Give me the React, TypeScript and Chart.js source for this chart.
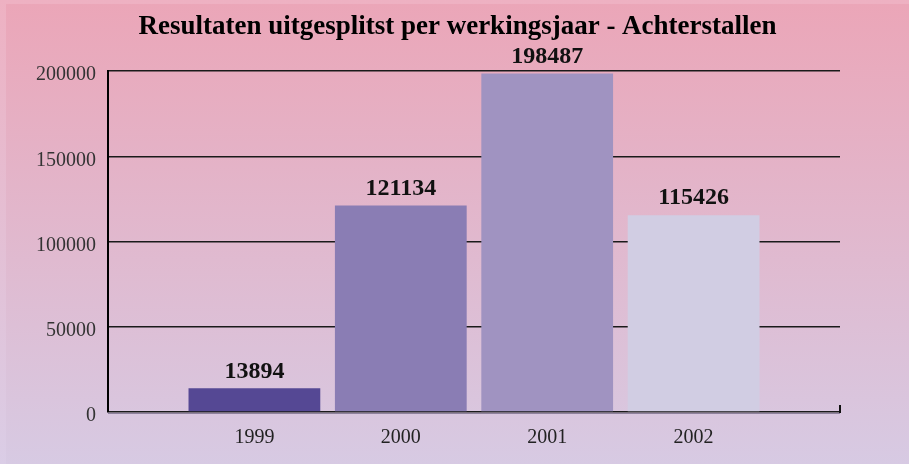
import React, { useEffect, useRef } from "react";
import { Chart, registerables } from "chart.js";

Chart.register(...registerables);

const categories = ["", "1999", "2000", "2001", "2002", ""];
const values = [null, 13894, 121134, 198487, 115426, null];
const barColors = ["#554894", "#554894", "#8a7db4", "#a093c1", "#d1cde3", "#d1cde3"];
const yTicks = [0, 50000, 100000, 150000, 200000];
const yTickLabels = ["0", "50000", "100000", "150000", "200000"];
const titleText = "Resultaten uitgesplitst per werkingsjaar - Achterstallen";

const FONT = "'Liberation Serif', 'Times New Roman', serif";

const decorPlugin = {
  id: "decor",
  afterDatasetsDraw(chart: any) {
    const { ctx, chartArea } = chart;
    const meta = chart.getDatasetMeta(0);
    ctx.save();
    ctx.strokeStyle = "rgba(110,100,130,0.7)";
    ctx.lineWidth = 1;
    ctx.beginPath();
    ctx.moveTo(chartArea.left, chartArea.bottom + 1.5);
    ctx.lineTo(chartArea.right, chartArea.bottom + 1.5);
    ctx.stroke();
    ctx.strokeStyle = "#111";
    ctx.lineWidth = 2;
    ctx.beginPath();
    ctx.moveTo(chartArea.right, chartArea.bottom + 1);
    ctx.lineTo(chartArea.right, chartArea.bottom - 7);
    ctx.stroke();
    ctx.fillStyle = "#111";
    ctx.font = `bold 24px ${FONT}`;
    ctx.textAlign = "center";
    ctx.textBaseline = "middle";
    meta.data.forEach((bar: any, i: number) => {
      const v = values[i];
      if (v == null) return;
      ctx.fillText(String(v), bar.x, bar.y - 17);
    });
    ctx.restore();
  },
};

export default function App() {
  const ref = useRef<HTMLCanvasElement>(null);
  useEffect(() => {
    document.body.style.margin = "0";
    const chart = new Chart(ref.current!, {
      type: "bar",
      data: {
        labels: categories,
        datasets: [
          {
            data: values as any,
            backgroundColor: barColors,
            borderWidth: 0,
            barPercentage: 0.9,
            categoryPercentage: 1,
          },
        ],
      },
      options: {
        animation: false,
        responsive: false,
        maintainAspectRatio: false,
        layout: { padding: { left: 0, right: 0, top: 0, bottom: 0 } },
        plugins: {
          legend: { display: false },
          tooltip: { enabled: false },
          title: {
            display: true,
            text: titleText,
            color: "#000",
            font: { family: FONT, size: 27, weight: "bold", lineHeight: 1.2 },
            padding: { top: 7, bottom: 27.6 },
          },
        },
        scales: {
          x: {
            type: "category",
            offset: false,
            grid: { display: false, drawTicks: false },
            border: { display: false },
            ticks: {
              color: "#222",
              font: { family: FONT, size: 20 },
              padding: 14,
              maxRotation: 0,
              autoSkip: false,
            },
            afterFit: (s: any) => {
              s.height = 52;
            },
          },
          y: {
            min: 0,
            max: 200000,
            afterBuildTicks: (s: any) => {
              s.ticks = yTicks.map((v) => ({ value: v }));
            },
            grid: { color: "#1a1a1a", lineWidth: 1.5, drawTicks: false },
            border: { display: true, color: "#000", width: 2 },
            ticks: {
              color: "#333",
              font: { family: FONT, size: 20 },
              padding: 12,
              labelOffset: 4,
              callback: (_v: any, i: number) => yTickLabels[i],
            },
            afterFit: (s: any) => {
              s.width = 102;
            },
          },
          yRight: {
            position: "right",
            display: true,
            min: 0,
            max: 200000,
            grid: { display: false, drawTicks: false },
            border: { display: false },
            ticks: { display: false },
            afterFit: (s: any) => {
              s.width = 69;
            },
          },
        },
      },
      plugins: [decorPlugin],
    });
    return () => chart.destroy();
  }, []);

  return (
    <div
      style={{
        position: "fixed",
        left: 0,
        top: 0,
        width: 909,
        height: 464,
        background: "linear-gradient(to bottom, #eeb1c2, #dacde6)",
      }}
    >
      <canvas
        ref={ref}
        width={903}
        height={460}
        style={{
          position: "absolute",
          left: 6,
          top: 4,
          width: 903,
          height: 460,
          background: "linear-gradient(to bottom, #eba6b8, #d7cae3)",
        }}
      />
    </div>
  );
}
